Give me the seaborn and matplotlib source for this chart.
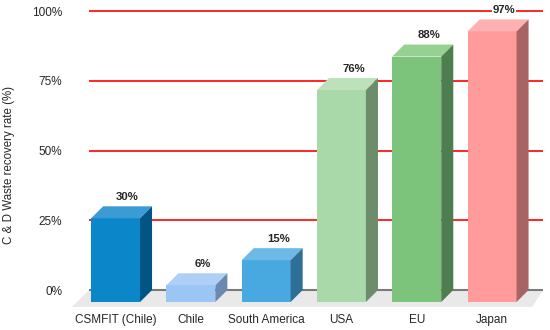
import numpy as np
import matplotlib
matplotlib.use("Agg")
import matplotlib.pyplot as plt
import seaborn as sns

# data
regions = ["CSMFIT (Chile)", "Chile", "South America", "USA", "EU", "Japan"]
rates = [30, 6, 15, 76, 88, 97]
front_cols = ["#0a86c9", "#9ac5f4", "#48a9e0", "#a9d9a9", "#7cc47c", "#ff9b9b"]
top_cols = ["#3a9bd5", "#aed0f7", "#6cb9e8", "#bde2bb", "#96d093", "#ffb0b0"]
side_cols = ["#005585", "#6a88b0", "#2e6f96", "#6c8c6c", "#4e7e4e", "#a86464"]
yticks = [0, 25, 50, 75, 100]

sns.set_style("white")
plt.rcParams["font.family"] = ["Liberation Sans", "DejaVu Sans"]

fig = plt.figure(figsize=(5.5, 3.3), dpi=100)
ax = fig.add_axes([72 / 550, 23 / 330, 473 / 550, 299 / 330])

# 3d look: depth in data units
dx, dy = 0.16, 4.3
w = 0.65

sns.barplot(x=regions, y=rates, hue=regions, palette=front_cols, legend=False,
            width=w, ax=ax, zorder=3, saturation=1, linewidth=0)
# push the front faces forward (down) by the depth
for cont in ax.containers:
    for p in cont.patches:
        p.set_y(-dy)

# floor and back wall lines
ax.fill([-0.352, 5.677, 5.531, -0.578], [0, 0, -6.09, -6.09], color="#e9e9e9", zorder=0, lw=0)
ax.hlines([25, 50, 75, 100], -0.352, 5.677, color="#ff0000", lw=1.2, zorder=0.5)
ax.hlines(0, -0.352, 5.677, color="#7a7a7a", lw=1.5, zorder=0.5)

for i, v in enumerate(rates):
    l, r = i - w / 2, i + w / 2
    ax.fill([l, r, r + dx, l + dx], [v - dy, v - dy, v, v], color=top_cols[i], lw=0, zorder=3)
    ax.fill([r, r + dx, r + dx, r], [-dy, 0, v, v - dy], color=side_cols[i], lw=0, zorder=3)
    ax.annotate(f"{v}%", (i + dx, v), xytext=(0, 3), textcoords="offset points",
                ha="center", va="bottom", fontsize=8.2, fontweight="bold", zorder=5,
                bbox=dict(facecolor="white", edgecolor="none", pad=0.5))

ax.set_xlim(-0.578, 5.703)
ax.set_ylim(-6.09, 101.1)
ax.set_yticks(yticks)
ax.set_yticklabels([f"{t}%" for t in yticks], fontsize=8.5)
ax.tick_params(axis="y", length=0, pad=7)
ax.tick_params(axis="x", length=0, pad=5, labelsize=8.5)
ax.set_ylabel("C & D Waste recovery rate (%)", fontsize=8.3)
ax.yaxis.set_label_coords(-0.12, 0.475)
sns.despine(ax=ax, left=True, bottom=True)

fig.savefig("out.png", dpi=100)
